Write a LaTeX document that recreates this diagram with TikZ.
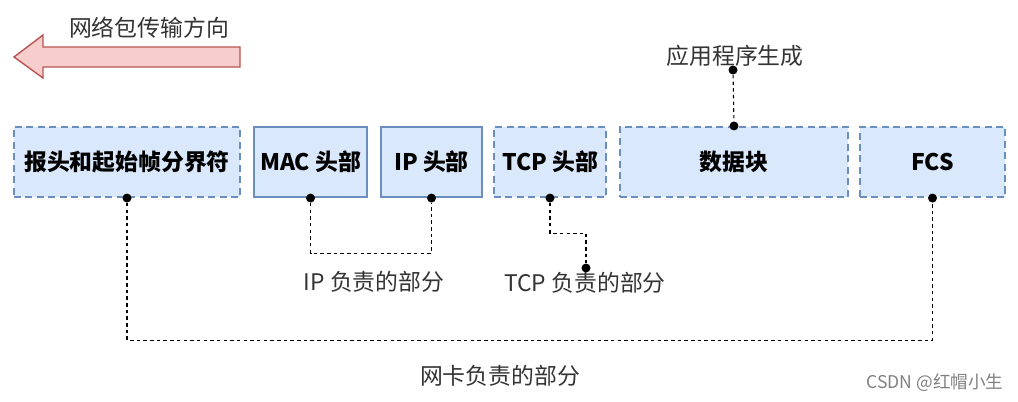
\documentclass[tikz,border=0pt]{standalone}
\usepackage{fontspec}
\setmainfont{Noto Sans CJK SC}
\usetikzlibrary{positioning}
\definecolor{FieldFill}{HTML}{DAE8FC}
\definecolor{FieldLine}{HTML}{6C8EBF}
\definecolor{ArrowFill}{HTML}{F8CECC}
\definecolor{ArrowLine}{HTML}{B85450}
\definecolor{TextGray}{HTML}{333333}

\begin{document}
\begin{tikzpicture}[
  every node/.style={font=\fontsize{13}{15}\selectfont},
  field/.style={draw=FieldLine, line width=1.2pt, fill=FieldFill, minimum height=1.4cm, font=\fontsize{13}{15}\selectfont\bfseries},
  dfield/.style={field, dash pattern=on 4pt off 2.5pt},
  part/.style={line width=0.6pt, dash pattern=on 2pt off 1.8pt},
  dot/.style={circle, fill=black, inner sep=0pt, minimum size=0.18cm},
  note/.style={inner sep=0pt, text=TextGray}
]
\useasboundingbox (0,0) rectangle (20.36,-8.02);

% direction arrow
\draw[ArrowLine, fill=ArrowFill, line width=0.8pt, line join=miter]
  (0.28,-1.14) -- (0.86,-0.70) -- (0.86,-0.94) -- (4.80,-0.94)
  -- (4.80,-1.34) -- (0.86,-1.34) -- (0.86,-1.56) -- cycle;
\node[note] (dir) at (2.98,-0.56) {网络包传输方向};

% frame fields
\node[dfield, minimum width=4.52cm] (hdr) at (2.54,-3.24) {报头和起始帧分界符};
\node[field, minimum width=2.26cm] (mac) at (6.21,-3.24) {MAC 头部};
\node[field, minimum width=2.02cm] (ip) at (8.63,-3.24) {IP 头部};
\node[dfield, minimum width=2.24cm] (tcp) at (11.0,-3.24) {TCP 头部};
\node[dfield, minimum width=4.56cm] (data) at (14.68,-3.24) {数据块};
\node[dfield, minimum width=2.9cm] (fcs) at (18.65,-3.24) {FCS};

% application
\node[note] (app) at (14.7,-1.12) {应用程序生成};
\node[dot] (appdot) at (14.66,-1.40) {};
\node[dot] (datadot) at (data.north) {};
\draw[part] (appdot) -- (datadot);

% IP part
\node[dot] (macdot) at (mac.south) {};
\node[dot] (ipdot) at (ip.south) {};
\draw[part] (macdot) -- ++(0,-1.1) -| (ipdot);
\node[note] (iplbl) at (7.48,-5.64) {IP 负责的部分};

% TCP part
\node[dot] (tcpdot) at (tcp.south) {};
\node[dot] (tcpend) at (11.72,-5.36) {};
\draw[part] (tcpdot) -- ++(0,-0.7) -| (tcpend);
\node[note] (tcplbl) at (11.7,-5.66) {TCP 负责的部分};

% NIC part
\node[dot] (hdrdot) at (hdr.south) {};
\node[dot] (fcsdot) at (fcs.south) {};
\draw[part] (hdrdot) -- ++(0,-2.84) -| (fcsdot);
\node[note] (niclbl) at (10.0,-7.52) {网卡负责的部分};

\node[inner sep=0pt, text=gray, font=\fontsize{10}{12}\selectfont] (mark) at (18.7,-7.66) {CSDN @红帽小生};
\end{tikzpicture}
\end{document}
